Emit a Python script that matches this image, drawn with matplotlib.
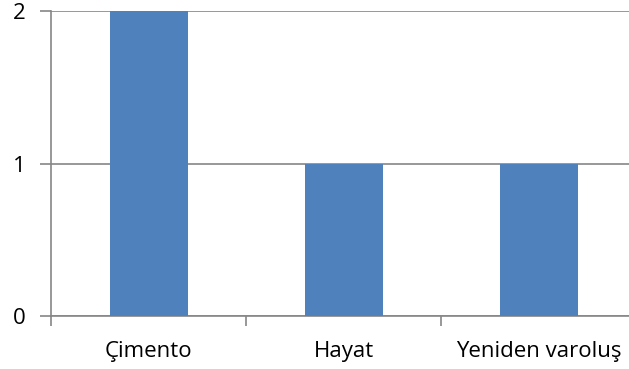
import matplotlib.pyplot as plt

# data
categories = ['Çimento', 'Hayat', 'Yeniden varoluş']
values = [2, 1, 1]

plt.rcParams['font.family'] = ['Open Sans', 'DejaVu Sans']

fig = plt.figure(figsize=(6.29, 3.69), dpi=100)
ax = fig.add_axes([51/629, 1-316/369, 585/629, 305/369])

ax.bar(range(len(categories)), values, width=0.4, color='#4F81BD', zorder=3)

ax.set_xlim(-0.5, 2.5)
ax.set_ylim(0, 2)
ax.set_yticks([0, 1, 2])
ax.yaxis.grid(True, color='#868686', lw=1.2, zorder=0)
ax.set_axisbelow(True)

# x ticks at category boundaries, labels centred in categories
ax.set_xticks([-0.5, 0.5, 1.5, 2.5])
ax.set_xticklabels([])
ax.set_xticks(range(len(categories)), minor=True)
ax.set_xticklabels(categories, minor=True, fontsize=16)
ax.tick_params(axis='x', which='minor', length=0, pad=18)
ax.tick_params(axis='x', which='major', length=7, color='#868686', width=1.2)
ax.tick_params(axis='y', length=8, color='#868686', width=1.2, labelsize=16, pad=10)

for s in ['top', 'right']:
    ax.spines[s].set_visible(False)
for s in ['left', 'bottom']:
    ax.spines[s].set_color('#868686')
    ax.spines[s].set_linewidth(1.2)

plt.savefig('out.png', dpi=100)
